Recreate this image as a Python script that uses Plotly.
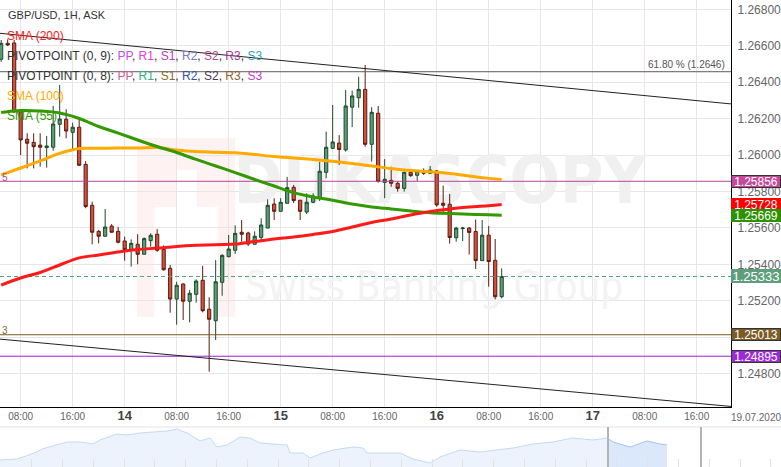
import plotly.graph_objects as go

# ---------------- data ----------------
hours = list(range(5, 83))  # hours since 13.07.2020 00:00
opens = [1.26526, 1.26614, 1.26616, 1.26238, 1.26087, 1.26070, 1.26055, 1.26041, 1.26043, 1.26169,
         1.26197, 1.26125, 1.26153, 1.25949, 1.25724, 1.25581, 1.25554, 1.25610, 1.25581, 1.25528,
         1.25477, 1.25510, 1.25455, 1.25530, 1.25565, 1.25482, 1.25378, 1.25209, 1.25292, 1.25197,
         1.25235, 1.25312, 1.25153, 1.25090, 1.25301, 1.25442, 1.25477, 1.25576, 1.25572, 1.25510,
         1.25548, 1.25599, 1.25731, 1.25691, 1.25735, 1.25823, 1.25752, 1.25687, 1.25741, 1.25766,
         1.25905, 1.26037, 1.26066, 1.26028, 1.26263, 1.26315, 1.26361, 1.26059, 1.26230, 1.25850,
         1.25861, 1.25845, 1.25817, 1.25905, 1.25889, 1.25913, 1.25900, 1.25913, 1.25735, 1.25730,
         1.25546, 1.25596, 1.25599, 1.25580, 1.25420, 1.25560, 1.25422, 1.25222]
highs = [1.26632, 1.26636, 1.26632, 1.26248, 1.26120, 1.26120, 1.26120, 1.26105, 1.26270, 1.26385,
         1.26252, 1.26178, 1.26197, 1.25967, 1.25744, 1.25588, 1.25704, 1.25621, 1.25606, 1.25552,
         1.25537, 1.25565, 1.25548, 1.25570, 1.25594, 1.25504, 1.25396, 1.25304, 1.25295, 1.25259,
         1.25317, 1.25392, 1.25219, 1.25423, 1.25455, 1.25561, 1.25614, 1.25643, 1.25579, 1.25581,
         1.25653, 1.25757, 1.25763, 1.25763, 1.25880, 1.25836, 1.25753, 1.25790, 1.25790, 1.25962,
         1.26129, 1.26275, 1.26110, 1.26358, 1.26354, 1.26431, 1.26495, 1.26263, 1.26270, 1.25978,
         1.25936, 1.25854, 1.25909, 1.25909, 1.25918, 1.25927, 1.25940, 1.25918, 1.25832, 1.25786,
         1.25606, 1.25606, 1.25605, 1.25646, 1.25643, 1.25610, 1.25539, 1.25378]
lows = [1.26512, 1.26599, 1.26231, 1.26000, 1.25927, 1.25927, 1.25936, 1.25931, 1.26024, 1.26101,
        1.26092, 1.26032, 1.25940, 1.25708, 1.25510, 1.25515, 1.25554, 1.25574, 1.25515, 1.25420,
        1.25387, 1.25400, 1.25455, 1.25497, 1.25469, 1.25365, 1.25134, 1.25068, 1.25094, 1.25081,
        1.25189, 1.25136, 1.24810, 1.24984, 1.25227, 1.25438, 1.25457, 1.25524, 1.25500, 1.25510,
        1.25524, 1.25598, 1.25643, 1.25691, 1.25735, 1.25737, 1.25643, 1.25676, 1.25735, 1.25748,
        1.25872, 1.26034, 1.25946, 1.26019, 1.26154, 1.26260, 1.26046, 1.25964, 1.25848, 1.25763,
        1.25826, 1.25799, 1.25799, 1.25881, 1.25858, 1.25891, 1.25896, 1.25716, 1.25675, 1.25514,
        1.25524, 1.25528, 1.25454, 1.25374, 1.25420, 1.25277, 1.25207, 1.25213]
closes = [1.26614, 1.26605, 1.26238, 1.26083, 1.26065, 1.26046, 1.26043, 1.26050, 1.26171, 1.26198,
          1.26132, 1.26153, 1.25944, 1.25717, 1.25576, 1.25554, 1.25605, 1.25576, 1.25521, 1.25480,
          1.25515, 1.25455, 1.25541, 1.25559, 1.25477, 1.25370, 1.25209, 1.25285, 1.25197, 1.25241,
          1.25308, 1.25145, 1.25098, 1.25304, 1.25449, 1.25484, 1.25570, 1.25565, 1.25511, 1.25554,
          1.25616, 1.25724, 1.25691, 1.25741, 1.25821, 1.25750, 1.25691, 1.25741, 1.25775, 1.25911,
          1.26043, 1.26072, 1.26031, 1.26270, 1.26325, 1.26361, 1.26059, 1.26235, 1.25856, 1.25867,
          1.25845, 1.25817, 1.25905, 1.25887, 1.25911, 1.25900, 1.25918, 1.25726, 1.25724, 1.25547,
          1.25599, 1.25599, 1.25575, 1.25420, 1.25560, 1.25415, 1.25222, 1.25333]

sma_hours = [5, 8, 11, 14, 17, 20, 23, 26, 29, 32, 35, 38, 41, 44, 47, 50, 53, 56, 59, 62, 65, 68, 71, 74, 77, 80, 82]
sma200 = [1.25286, 1.25325, 1.25355, 1.25396, 1.25435, 1.25451, 1.25468, 1.25481, 1.25489, 1.25498,
          1.25504, 1.25508, 1.25511, 1.25525, 1.25539, 1.25550, 1.25564, 1.25580, 1.25605, 1.25630,
          1.25649, 1.25671, 1.25690, 1.25704, 1.25715, 1.25722, 1.25728]
sma100 = [1.25891, 1.25929, 1.25968, 1.26009, 1.26036, 1.26037, 1.26039, 1.26039, 1.26041, 1.26028,
          1.26019, 1.26015, 1.26013, 1.26003, 1.25992, 1.25984, 1.25976, 1.25966, 1.25954, 1.25940,
          1.25926, 1.25915, 1.25909, 1.25899, 1.25885, 1.25872, 1.25866]
sma55 = [1.26234, 1.26245, 1.26242, 1.26231, 1.26201, 1.26157, 1.26121, 1.26083, 1.26047, 1.26014,
         1.25976, 1.25940, 1.25904, 1.25866, 1.25830, 1.25794, 1.25770, 1.25752, 1.25731, 1.25715,
         1.25704, 1.25693, 1.25683, 1.25679, 1.25675, 1.25672, 1.25669]

pivot_pp = 1.25856
pivot_s_brown = 1.25013
pivot_s_purple = 1.24895
fib_618 = 1.26458
last_price = 1.25333

trend_upper_x = [4.82, 117.28]
trend_upper_y = [1.26669, 1.26281]
trend_lower_x = [4.82, 117.28]
trend_lower_y = [1.24989, 1.24619]

tick_vals = [8, 16, 24, 32, 40, 48, 56, 64, 72, 80, 88, 96, 104, 112]
tick_text = ["08:00", "16:00", "14", "08:00", "16:00", "15", "08:00", "16:00", "16",
             "08:00", "16:00", "17", "08:00", "16:00"]
y_ticks = [1.248, 1.250, 1.252, 1.254, 1.256, 1.258, 1.260, 1.262, 1.264, 1.266, 1.268]

# navigator (overview) series: time position and relative level
nav_t = [0, 17, 23, 37, 42, 67, 80, 93, 100, 117, 127, 140, 153, 167, 177, 187, 200, 210, 217, 227,
         240, 250, 260, 273, 287, 290, 303, 310, 323, 333, 353, 363, 367, 380, 400, 413, 430, 440,
         460, 480, 497, 513, 533, 553, 573, 593, 607]
nav_v = [7, 8, 10, 15, 18, 25, 25, 23, 27, 33, 32, 34, 35, 36, 38, 34, 26, 29, 20, 22,
         30, 29, 24, 23, 22, 14, 14, 9, 14, 17, 20, 19, 14, 14, 14, 8, 4, 10,
         17, 15, 17, 19, 23, 25, 29, 27, 29]
nav_sel_t = [607, 613, 630, 647, 660, 667]
nav_sel_v = [29, 25, 20, 26, 23, 22]
nav_handles = [608, 701]

# ---------------- layout geometry ----------------
W, H = 781, 467
PLOT_R, PLOT_B, NAV_T = 731, 407, 427
x_range = [4.82, 117.28]
y_range = [1.24616, 1.26852]
FONT = "Liberation Sans, Arial, sans-serif"
WM_FONT = "Liberation Sans Narrow, DejaVu Sans Condensed, sans-serif"


def px_x(px):
    return x_range[0] + px / PLOT_R * (x_range[1] - x_range[0])


def px_y(py):
    return y_range[1] - py / PLOT_B * (y_range[1] - y_range[0])


def pp_x(px):
    return px / W


def pp_y(py):
    return 1 - py / H


fig = go.Figure()

# watermark text on the base subplot (under the candles)
fig.add_trace(go.Scatter(
    x=[px_x(440)], y=[px_y(186)], mode="text", text=["<b>DUKASCOPY</b>"],
    textfont=dict(family=WM_FONT, size=66, color="#f0f0f0"),
    hoverinfo="skip", xaxis="x", yaxis="y"))
fig.add_trace(go.Scatter(
    x=[px_x(434)], y=[px_y(290)], mode="text", text=["Swiss Banking Group"],
    textfont=dict(family=WM_FONT, size=40, color="#f3f3f3"),
    hoverinfo="skip", xaxis="x", yaxis="y"))

# candles
fig.add_trace(go.Candlestick(
    x=hours, open=opens, high=highs, low=lows, close=closes,
    increasing=dict(fillcolor="#5c9e79", line=dict(color="#1d4a2b", width=1)),
    decreasing=dict(fillcolor="#d4513b", line=dict(color="#5e1b11", width=1)),
    whiskerwidth=0, hoverinfo="skip", xaxis="x", yaxis="y3"))


def hline(v, color, dash="solid", width=1):
    fig.add_trace(go.Scatter(x=x_range, y=[v, v], mode="lines",
                             line=dict(color=color, width=width, dash=dash),
                             hoverinfo="skip", xaxis="x", yaxis="y3"))


hline(fib_618, "#5a5a5a")
hline(pivot_pp, "#b5479a")
hline(pivot_s_brown, "#7a5b1c")
hline(pivot_s_purple, "#9b1fd8")
hline(last_price, "#5f9e7c", dash="4px,3px")

# trend lines
fig.add_trace(go.Scatter(x=trend_upper_x, y=trend_upper_y, mode="lines",
                         line=dict(color="#222222", width=1), hoverinfo="skip", xaxis="x", yaxis="y3"))
fig.add_trace(go.Scatter(x=trend_lower_x, y=trend_lower_y, mode="lines",
                         line=dict(color="#222222", width=1), hoverinfo="skip", xaxis="x", yaxis="y3"))

# moving averages
for vals, col in [(sma100, "#ffaa00"), (sma55, "#339900"), (sma200, "#ff1a1a")]:
    fig.add_trace(go.Scatter(x=sma_hours, y=vals, mode="lines", line=dict(color=col, width=3, shape="spline"),
                             hoverinfo="skip", xaxis="x", yaxis="y3"))

# navigator
fig.add_trace(go.Scatter(x=nav_t, y=nav_v, mode="lines", fill="tozeroy", fillcolor="#edf3fd",
                         line=dict(color="#c5d9f5", width=1), hoverinfo="skip", xaxis="x2", yaxis="y2"))
fig.add_trace(go.Scatter(x=nav_sel_t, y=nav_sel_v, mode="lines", fill="tozeroy", fillcolor="#dbe7fb",
                         line=dict(color="#a6c4f0", width=1), hoverinfo="skip", xaxis="x2", yaxis="y2"))

# ---------------- shapes ----------------
shapes = []
pink = "rgba(235,70,70,0.07)"
for (x0, y0, x1, y1) in [(137, 138, 154, 317), (218, 138, 235, 317), (154, 138, 218, 170),
                         (154, 170, 176, 207), (197, 170, 218, 207)]:
    shapes.append(dict(type="rect", xref="paper", yref="paper", x0=pp_x(x0), x1=pp_x(x1),
                       y0=pp_y(y1), y1=pp_y(y0), fillcolor=pink, line=dict(width=0), layer="below"))
shapes.append(dict(type="line", xref="paper", yref="paper", x0=0, x1=1, y0=pp_y(NAV_T), y1=pp_y(NAV_T),
                   line=dict(color="#e2e2e2", width=1)))
for hx in nav_handles:
    shapes.append(dict(type="line", xref="x2", yref="paper", x0=hx, x1=hx, y0=0, y1=pp_y(NAV_T),
                       line=dict(color="#b4b4b4", width=2)))

# ---------------- annotations ----------------
ann = []


def txt(x, y, text, size=12, color="#333333", xanchor="left", yanchor="middle"):
    ann.append(dict(x=pp_x(x), y=pp_y(y), xref="paper", yref="paper", text=text, showarrow=False,
                    xanchor=xanchor, yanchor=yanchor, font=dict(family=FONT, size=size, color=color)))


def colored(items):
    parts = []
    for i, (t, c) in enumerate(items):
        sep = ", " if i < len(items) - 1 else ""
        parts.append('<span style="color:%s">%s</span>%s' % (c, t, sep))
    return "".join(parts)


txt(6, 15, "GBP/USD, 1H, ASK", size=11)
txt(5, 36, "SMA (200)", color="#ff2020")
txt(5, 56, "PIVOTPOINT (0, 9): " + colored([("PP", "#c050e8"), ("R1", "#e040e0"), ("S1", "#b040c8"),
                                             ("R2", "#7878c8"), ("S2", "#b84888"), ("R3", "#a03898"),
                                             ("S3", "#3aa0b8")]))
txt(5, 76, "PIVOTPOINT (0, 8): " + colored([("PP", "#c8609a"), ("R1", "#30b080"), ("S1", "#8a6a30"),
                                             ("R2", "#3a50a0"), ("S2", "#503a58"), ("R3", "#906030"),
                                             ("S3", "#c040c0")]))
txt(5, 96, "SMA (100)", color="#ffaa00")
txt(5, 116, "SMA (55)", color="#339900")
txt(0, 177, "5", size=10, color="#b5479a")
txt(0, 330, "3", size=10, color="#8a6a30")
txt(756, 417, "19.07.2020", size=10, color="#666666", xanchor="center")

ann.append(dict(x=pp_x(727), y=fib_618, xref="paper", yref="y", text="61.80 % (1.2646)", showarrow=False,
                xanchor="right", yanchor="bottom", yshift=0, font=dict(family=FONT, size=10, color="#555555")))

for v, bg, bd, fs in [(pivot_pp, "#c5489b", "#333333", 12), (sma200[-1], "#ff0000", "#ff0000", 12),
                      (sma55[-1], "#2e9200", "#2e9200", 12), (last_price, "#5f9e7c", "#5f9e7c", 13),
                      (pivot_s_brown, "#7b5b26", "#333333", 12), (pivot_s_purple, "#9b2bd4", "#333333", 12)]:
    ann.append(dict(x=pp_x(PLOT_R), y=v, xref="paper", yref="y", text="%.5f" % v, showarrow=False,
                    xanchor="left", yanchor="middle", width=48, height=11 if fs == 12 else 12,
                    bgcolor=bg, bordercolor=bd, borderwidth=1, borderpad=0, align="center",
                    font=dict(family=FONT, size=fs, color="#ffffff")))

styled_ticks = []
for t in tick_text:
    if ":" in t:
        styled_ticks.append(t)
    else:
        styled_ticks.append('<span style="font-size:13px;font-weight:bold;fill:#444444">%s</span>' % t)

fig.update_layout(
    width=W, height=H, margin=dict(l=0, r=0, t=0, b=0),
    paper_bgcolor="white", plot_bgcolor="white", showlegend=False,
    font=dict(family=FONT, size=11, color="#555555"),
    xaxis=dict(domain=[0, PLOT_R / W], range=x_range, tickvals=tick_vals, ticktext=styled_ticks,
               showgrid=True, gridcolor="#e6e6e6", gridwidth=1, zeroline=False,
               showline=True, linecolor="#000000", linewidth=1, ticks="",
               tickfont=dict(size=10, color="#666666"), anchor="y", rangeslider=dict(visible=False),
               fixedrange=True),
    yaxis=dict(domain=[1 - PLOT_B / H, 1], range=y_range, side="right", tickvals=y_ticks,
               tickformat=".5f", showgrid=True, gridcolor="#e6e6e6", gridwidth=1, zeroline=False,
               showline=True, linecolor="#000000", linewidth=1, ticks="outside", ticklen=3,
               tickcolor="rgba(0,0,0,0)", tickfont=dict(size=12, color="#666666"), anchor="x"),
    yaxis3=dict(overlaying="y", range=y_range, visible=False, anchor="x"),
    xaxis2=dict(domain=[0, 1], range=[0, W], anchor="y2", showgrid=False, zeroline=False, showline=False,
                ticks="inside", ticklen=8, tickcolor="#e2e2e2", tick0=0.9, dtick=30.8,
                showticklabels=False),
    yaxis2=dict(domain=[0, (H - NAV_T) / H], range=[0, 40], visible=False, anchor="x2"),
    shapes=shapes, annotations=ann,
)

fig.write_html("out.html", config={"displayModeBar": False},
               post_script="document.body.style.margin='0px';document.body.style.overflow='hidden';")
